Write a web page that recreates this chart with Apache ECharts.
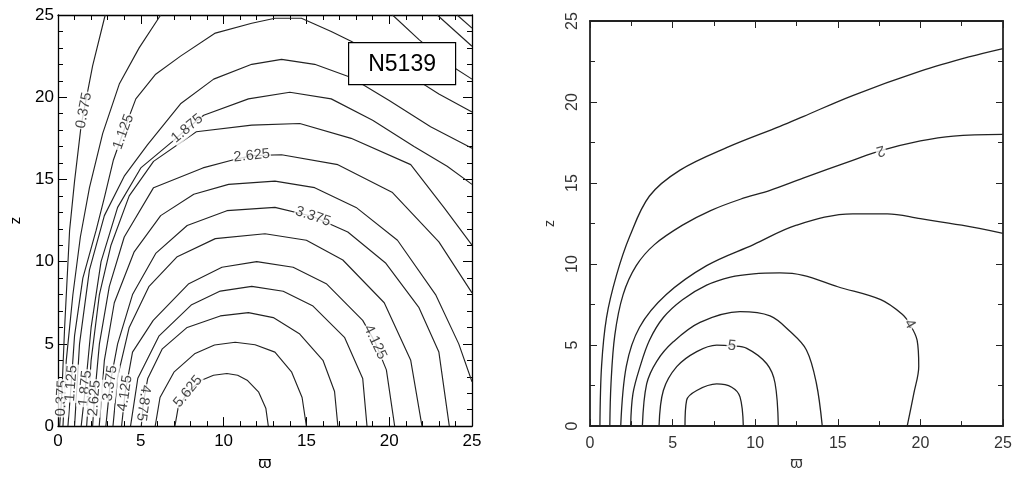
<!DOCTYPE html>
<html>
<head>
<meta charset="utf-8">
<script src="https://cdn.jsdelivr.net/npm/echarts@6/dist/echarts.min.js"></script>
<style>
  html, body { margin: 0; padding: 0; background: #fff; }
  #left  { position: absolute; left: 0;     top: 0; width: 520px; height: 477px; }
  #right { position: absolute; left: 520px; top: 0; width: 495px; height: 477px; filter: blur(0.5px); }
</style>
</head>
<body>
<div id="left"></div>
<div id="right"></div>
<script>
// ---------- N5139 model: contour paths (x = ϖ, y = z) ----------
const c0000  = [[24.1,25],[25,24.2]];
const c0375  = [[0.1,0],[0.22,1.7],[0.4,6],[0.7,11.9],[1.0,14.9],[1.4,18.3],[1.57,19.2],[2.09,21.9],[2.85,25]];
const c0375b = [[22.9,25],[25,23.1]];
const c0750  = [[0.3,0],[0.5,4],[0.9,8],[1.35,11.5],[1.9,14.5],[2.7,17.8],[3.7,20.8],[4.9,23.0],[6.2,25]];
const c0750b = [[20.2,25],[21.8,23.5],[23.6,22.0],[25,21.1]];
const c1125  = [[0.6,0],[0.8,2.6],[1.0,5.5],[1.5,9],[2.3,11.9],[2.8,13.9],[3.35,16.2],[3.95,17.9],[4.7,19.9],[5.9,21.4],[7.4,22.5],[9.5,23.9],[11.7,24.5],[13.1,24.8],[14.7,24.8],[16.5,24.0],[17.7,23.4],[20.5,21.8],[23,20.2],[25,19.1]];
const c1500  = [[1.0,0],[1.3,5],[1.9,9.5],[2.8,12.8],[4.0,15.2],[5.4,17.1],[7.4,19.6],[9.4,21.1],[11.7,22.0],[13.5,22.3],[15.5,22.0],[17.7,21.2],[20,19.8],[22.5,18.2],[25,16.9]];
const c1875  = [[1.4,0],[1.65,2.3],[2.0,6],[2.6,10],[3.6,13.3],[5.0,15.7],[6.9,17.3],[7.8,18.1],[8.8,18.9],[11.5,19.9],[14,20.3],[16.5,19.9],[19,18.6],[21.5,17.0],[23.5,15.8],[25,14.7]];
const c2250  = [[1.73,0],[2.0,4],[2.5,8],[3.2,11],[4.3,14],[5.77,16.1],[8.35,17.9],[11.7,18.3],[14.6,18.4],[17.7,17.5],[21.3,15.9],[23.3,13.3],[25,11.0]];
const c2625  = [[2.09,0],[2.2,1.7],[2.5,5],[3.1,8.5],[4.0,11.5],[5.77,14.5],[8.75,15.7],[10.6,16.2],[11.7,16.45],[13.5,16.5],[16.9,15.9],[20.2,14.2],[23.0,11.2],[25,8.1]];
const c3000  = [[2.49,0],[2.8,4],[3.4,7.5],[4.6,10.6],[6.2,12.8],[8.2,14.1],[10.3,14.7],[13.1,14.9],[15.5,14.5],[18,13.3],[20.5,11.3],[22.8,8.0],[24.2,5.0],[25,2.7]];
const c3375  = [[2.89,0],[3.15,2.6],[3.6,5],[4.5,8],[5.9,10.5],[7.8,12.2],[10.2,13.1],[13.1,13.3],[15.4,12.75],[17.5,11.8],[19.8,9.9],[21.8,7.2],[23.0,4.5],[23.63,0]];
const c3750  = [[3.32,0],[3.6,3],[4.3,6],[5.5,8.5],[7.2,10.3],[9.5,11.4],[12.5,11.7],[15,11.3],[17.2,10.1],[19.7,7.5],[21.3,4.0],[21.98,0]];
const c4125  = [[3.84,0],[4.05,2.0],[4.5,4.5],[5.75,6.43],[7.9,8.66],[9.9,9.66],[12,10],[14.2,9.66],[16.2,8.66],[18.4,6.43],[19.15,5.1],[19.83,3.42],[20.33,0]];
const c4500  = [[4.38,0],[4.82,2.91],[6.09,5.47],[8.04,7.36],[9.8,8.21],[11.7,8.5],[13.6,8.2],[15.4,7.3],[17.3,5.4],[18.4,2.9],[18.66,0]];
const c4875  = [[5.03,0],[5.15,1.4],[5.42,2.9],[6.3,4.7],[7.8,6.0],[9.8,6.7],[11.5,6.9],[13.0,6.6],[14.6,5.6],[16.0,4.0],[16.7,2.1],[16.9,0]];
const c5250  = [[5.87,0],[6.16,1.74],[7.0,3.28],[8.28,4.42],[9.45,4.93],[10.7,5.1],[11.9,4.95],[13.1,4.5],[14.1,3.3],[14.74,1.74],[15.0,0]];
const c5625  = [[7.06,0],[7.25,1.09],[7.85,2.1],[8.63,2.77],[9.39,3.09],[10.2,3.2],[10.85,3.09],[11.45,2.77],[12.12,2.06],[12.55,1.09],[12.7,0]];

const leftPaths = [c0000, c0375, c0375b, c0750, c0750b, c1125, c1500, c1875, c2250,
                   c2625, c3000, c3375, c3750, c4125, c4500, c4875, c5250, c5625];

// label placement: which path, which vertex, text
const leftLabels = [
  { line: c0375, idx: 1,  text: '0.375' },
  { line: c0375, idx: 6,  text: '0.375' },
  { line: c1125, idx: 1,  text: '1.125' },
  { line: c1125, idx: 7,  text: '1.125' },
  { line: c1875, idx: 1,  text: '1.875' },
  { line: c1875, idx: 7,  text: '1.875' },
  { line: c2625, idx: 1,  text: '2.625' },
  { line: c2625, idx: 8,  text: '2.625' },
  { line: c3375, idx: 1,  text: '3.375' },
  { line: c3375, idx: 8,  text: '3.375' },
  { line: c4125, idx: 1,  text: '4.125' },
  { line: c4125, idx: 10, text: '4.125' },
  { line: c4875, idx: 1,  text: '4.875', flip: true },
  { line: c5625, idx: 2,  text: '5.625' }
];

// ---------- second model: contour paths ----------
const r1 = [[0.6,0],[0.7,3.7],[1.0,6.7],[1.6,9.3],[2.4,11.7],[3.6,14.2],[5.45,15.8],[8.3,17.2],[11.5,18.5],[12.9,19.1],[15.9,20.4],[20,21.9],[23,22.8],[25,23.3]];
const r2 = [[1.2,0],[1.27,2.6],[1.5,5.6],[2.0,8.1],[2.8,9.9],[3.9,11.2],[5.6,12.4],[7.3,13.3],[9.1,14.0],[10.9,14.55],[12.9,15.3],[15.9,16.4],[17.6,17.0],[20,17.6],[22,17.9],[25,18.0]];
const r3 = [[1.86,0],[2.2,3.7],[3.0,6.1],[4.6,8.1],[7.06,9.9],[9.9,11.2],[12.5,12.4],[15.9,13.1],[18,13.1],[20,12.8],[22.5,12.4],[25,11.9]];
const r4 = [[2.46,0],[2.6,2],[3.03,3.67],[3.6,5.3],[4.44,6.7],[5.6,7.8],[7.06,8.7],[8.5,9.2],[9.9,9.4],[11.5,9.45],[12.9,9.3],[15,8.6],[17.6,7.8],[18.9,6.9],[19.35,6.3],[19.8,5.3],[19.9,3.7],[19.6,2.0],[19.2,0]];
const r5 = [[3.17,0],[3.43,2.6],[4.04,4.0],[5.04,5.2],[6.66,6.4],[9.08,7.06],[10.9,6.8],[12.1,5.85],[13.1,4.7],[13.7,2.66],[14.06,0]];
const r6 = [[4.18,0],[4.44,2.2],[5.25,3.67],[6.46,4.6],[7.67,5.0],[8.58,4.95],[9.49,4.8],[10.7,3.85],[11.2,2.66],[11.4,0]];
const r7 = [[5.75,0],[5.85,1.6],[6.46,2.2],[7.67,2.6],[8.58,2.4],[9.08,1.8],[9.28,0]];

const rightPaths = [r1, r2, r3, r4, r5, r6, r7];
const rightLabels = [
  { line: r2, idx: 12, text: '2', flip: true },
  { line: r4, idx: 14, text: '4' },
  { line: r6, idx: 5,  text: '5' }
];

const tickValues = [0, 5, 10, 15, 20, 25];
const FONT = '"Liberation Sans", Arial, Helvetica, sans-serif';

// ---------- helpers ----------
function frameAxes(o) {
  const common = {
    type: 'value', min: tickValues[0], max: tickValues[tickValues.length - 1], interval: 5,
    splitLine: { show: false }, minorSplitLine: { show: false },
    axisLine: { onZero: false, lineStyle: { color: o.frame, width: o.frameWidth } },
    axisTick: { inside: true, length: o.major, lineStyle: { color: o.frame, width: 1 } },
    minorTick: { show: true, splitNumber: o.minorSplit, length: o.minor, lineStyle: { color: o.frame, width: 1 } }
  };
  const lab = { color: o.text, fontSize: o.fontSize, fontFamily: FONT };
  return {
    xAxis: [
      Object.assign({}, common, { position: 'bottom',
        axisLabel: Object.assign({ margin: o.xMargin }, lab),
        name: 'ϖ', nameLocation: 'middle', nameGap: o.xNameGap,
        nameTextStyle: { color: o.text, fontSize: o.fontSize, fontFamily: FONT } }),
      Object.assign({}, common, { position: 'top', axisLabel: { show: false } })
    ],
    yAxis: [
      Object.assign({}, common, { position: 'left',
        axisLabel: Object.assign({ margin: o.yMargin, rotate: o.yRotate }, lab),
        name: 'z', nameLocation: 'middle', nameGap: o.yNameGap, nameRotate: 90,
        nameTextStyle: { color: o.text, fontSize: o.nameSize, fontFamily: FONT } }),
      Object.assign({}, common, { position: 'right', axisLabel: { show: false } })
    ]
  };
}

function pathSeries(paths, style, smooth) {
  return paths.map(d => ({
    type: 'line', data: d, showSymbol: false, smooth: smooth, silent: true,
    xAxisIndex: 0, yAxisIndex: 0, z: 2,
    lineStyle: style
  }));
}

// labels sit on a path vertex and follow the local direction of the path
function labelSeries(chart, specs, style) {
  const data = specs.map(s => {
    const a = chart.convertToPixel({ xAxisIndex: 0, yAxisIndex: 0 }, s.line[s.idx - 1]);
    const b = chart.convertToPixel({ xAxisIndex: 0, yAxisIndex: 0 }, s.line[s.idx + 1]);
    let ang = Math.atan2(-(b[1] - a[1]), b[0] - a[0]) * 180 / Math.PI;
    if (ang > 90) ang -= 180;
    if (ang <= -90) ang += 180;
    if (s.flip) ang += 180;
    return { value: s.line[s.idx], label: { formatter: s.text, rotate: ang } };
  });
  return {
    type: 'scatter', data: data, symbolSize: 1, silent: true, z: 5,
    itemStyle: { color: 'rgba(0,0,0,0)' },
    label: Object.assign({ show: true, position: 'inside', backgroundColor: '#fff',
      padding: [0, 1], fontFamily: FONT }, style)
  };
}

// ---------- left panel ----------
const left = echarts.init(document.getElementById('left'), null, { renderer: 'canvas' });
const leftBase = pathSeries(leftPaths, { color: '#222', width: 1.15 }, false);
const leftAxes = frameAxes({ frame: '#000', frameWidth: 1.3, major: 9, minor: 5, minorSplit: 5,
  text: '#000', fontSize: 17, nameSize: 15, xMargin: 7, yMargin: 4, yRotate: 0, xNameGap: 25, yNameGap: 35 });
left.setOption({
  animation: false,
  grid: { left: 53, top: 15, width: 419, height: 417, containLabel: false },
  xAxis: leftAxes.xAxis, yAxis: leftAxes.yAxis,
  series: leftBase,
  graphic: [{
    type: 'group', left: 348, top: 42, z: 100,
    children: [
      { type: 'rect', shape: { x: 0, y: 0, width: 107, height: 42 }, z: 100,
        style: { fill: '#fff', stroke: '#000', lineWidth: 1.2 } },
      { type: 'text', x: 53.5, y: 22, z: 101,
        style: { text: 'N5139', fill: '#000', font: '23px ' + FONT, align: 'center', verticalAlign: 'middle' } }
    ]
  }]
});
left.setOption({ series: leftBase.concat([labelSeries(left, leftLabels, { color: '#111', fontSize: 14.5 })]) });

// ---------- right panel ----------
const right = echarts.init(document.getElementById('right'), null, { renderer: 'canvas' });
const rightBase = pathSeries(rightPaths, { color: '#222', width: 1.3 }, 0.35);
const rightAxes = frameAxes({ frame: '#222', frameWidth: 1.8, major: 7, minor: 5, minorSplit: 2,
  text: '#333', fontSize: 16, nameSize: 14, xMargin: 9, yMargin: 9, yRotate: 90, xNameGap: 28, yNameGap: 33 });
right.setOption({
  animation: false,
  grid: { left: 70, top: 21, width: 413, height: 413, containLabel: false },
  xAxis: rightAxes.xAxis, yAxis: rightAxes.yAxis,
  series: rightBase
});
right.setOption({ series: rightBase.concat([labelSeries(right, rightLabels, { color: '#222', fontSize: 15 })]) });
</script>
</body>
</html>
